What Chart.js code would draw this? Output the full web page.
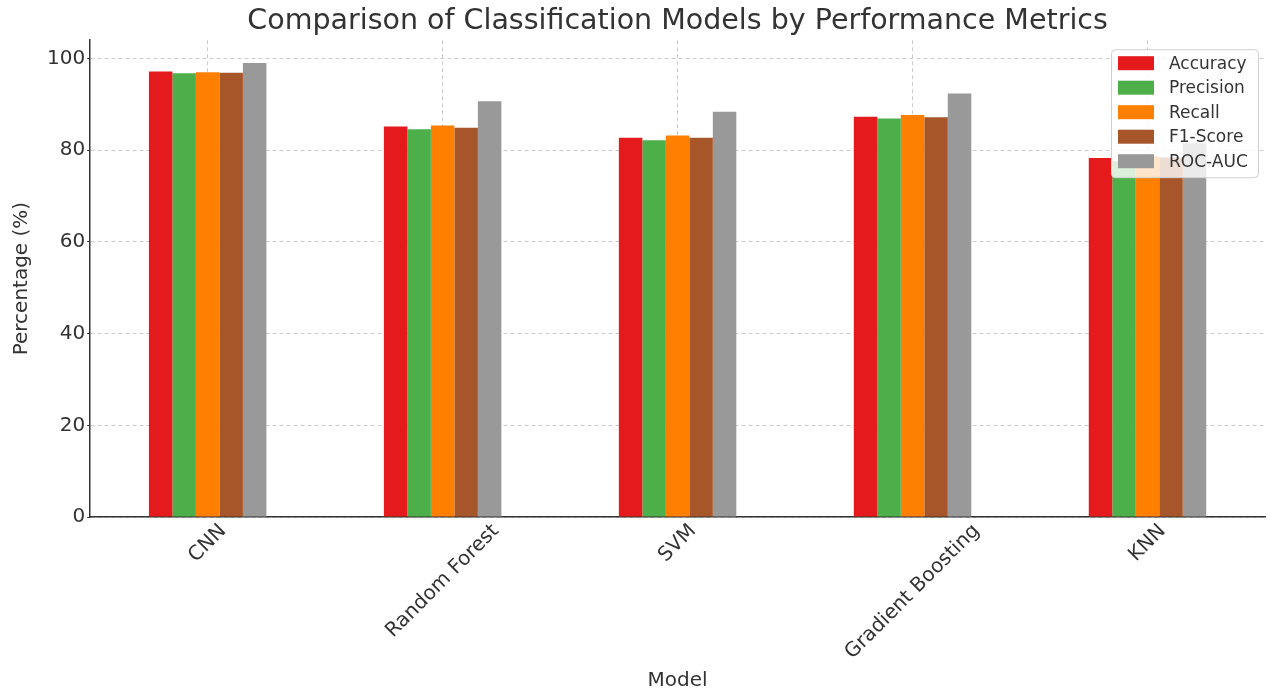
<!DOCTYPE html>
<html>
<head>
<meta charset="utf-8">
<script src="https://cdn.jsdelivr.net/npm/chart.js@4.4.0/dist/chart.umd.min.js"></script>
<style>
  html, body { margin: 0; padding: 0; background: #fff; }
  #wrap { width: 1270px; height: 691px; position: relative; }
</style>
</head>
<body>
<div id="wrap"><canvas id="metricsChart"></canvas></div>
<script>
// chart data
const models = ['CNN', 'Random Forest', 'SVM', 'Gradient Boosting', 'KNN'];
const accuracy  = [97.2, 85.2, 82.7, 87.3, 78.3];
const precision = [96.8, 84.6, 82.2, 86.9, 77.6];
const recall    = [97.0, 85.4, 83.2, 87.7, 78.7];
const f1Score   = [96.9, 84.9, 82.7, 87.2, 78.4];
const rocAuc    = [99.0, 90.7, 88.4, 92.4, 81.5];
const yTicks = [0, 20, 40, 60, 80, 100];

const seriesConfigs = [
    { label: 'Accuracy',  data: accuracy,  color: '#e41a1c' },
    { label: 'Precision', data: precision, color: '#4daf4a' },
    { label: 'Recall',    data: recall,    color: '#ff7f00' },
    { label: 'F1-Score',  data: f1Score,   color: '#a65628' },
    { label: 'ROC-AUC',   data: rocAuc,    color: '#999999' }
];

const FONT = "'DejaVu Sans', sans-serif";
const TEXT = '#333333';

// legend drawn inside the plot area, top right (like matplotlib)
const innerLegend = {
    id: 'innerLegend',
    afterDraw(chart) {
        const ctx = chart.ctx;
        const area = chart.chartArea;
        const boxW = 147, boxH = 128;
        const x = area.right - boxW - 7, y = area.top + 9;
        ctx.save();
        ctx.fillStyle = 'rgba(255,255,255,0.8)';
        ctx.strokeStyle = '#d0d0d0';
        ctx.lineWidth = 1;
        ctx.beginPath();
        ctx.roundRect(x + 0.5, y + 0.5, boxW, boxH, 4);
        ctx.fill();
        ctx.stroke();
        ctx.font = '17px ' + FONT;
        ctx.textBaseline = 'middle';
        chart.data.datasets.forEach((ds, i) => {
            const rowY = y + 14 + i * 24.5;
            ctx.fillStyle = ds.backgroundColor;
            ctx.fillRect(x + 7, rowY - 7, 36, 14);
            ctx.fillStyle = TEXT;
            ctx.fillText(ds.label, x + 58, rowY + 1);
        });
        ctx.restore();
    }
};

// x labels centred under the tick, rotated 45deg (matplotlib ha='center')
const centeredXLabels = {
    id: 'centeredXLabels',
    afterDraw(chart) {
        const ctx = chart.ctx;
        const xScale = chart.scales.x;
        ctx.save();
        ctx.font = '20px ' + FONT;
        ctx.fillStyle = TEXT;
        ctx.textAlign = 'center';
        ctx.textBaseline = 'middle';
        chart.data.labels.forEach((label, i) => {
            const px = xScale.getPixelForTick(i);
            const w = ctx.measureText(label).width;
            const half = (w + 14) * Math.SQRT1_2 / 2;
            ctx.save();
            ctx.translate(px, xScale.top + 6 + half);
            ctx.rotate(-Math.PI / 4);
            ctx.fillText(label, 0, 0);
            ctx.restore();
        });
        ctx.restore();
    }
};

const canvas = document.getElementById('metricsChart');
const chart = new Chart(canvas.getContext('2d'), {
    type: 'bar',
    data: {
        labels: models,
        datasets: seriesConfigs.map(c => ({
            label: c.label,
            data: c.data,
            backgroundColor: c.color,
            borderWidth: 0,
            categoryPercentage: 0.5,
            barPercentage: 1.0
        }))
    },
    options: {
        responsive: true,
        maintainAspectRatio: false,
        animation: false,
        layout: { padding: { top: 4, right: 5, left: 10, bottom: -2 } },
        plugins: {
            legend: { display: false },
            tooltip: { enabled: false },
            title: {
                display: true,
                fullSize: false,
                text: 'Comparison of Classification Models by Performance Metrics',
                color: TEXT,
                font: { family: FONT, size: 28.5, weight: 'normal' },
                padding: { top: 0, bottom: 2 }
            }
        },
        scales: {
            x: {
                afterFit(scale) {
                    scale.height = 176;
                },
                grid: {
                    color: '#cccccc',
                    offset: false,
                    drawTicks: false
                },
                border: { color: '#333', width: 1.5, dash: [4, 3] },
                ticks: {
                    color: 'rgba(0,0,0,0)',
                    font: { family: FONT, size: 20 },
                    minRotation: 45,
                    maxRotation: 45,
                    padding: 6
                },
                title: {
                    display: true,
                    text: 'Model',
                    color: TEXT,
                    font: { family: FONT, size: 20 },
                    padding: { top: 4, bottom: 0 }
                }
            },
            y: {
                min: 0,
                max: 104,
                afterBuildTicks(scale) {
                    scale.ticks = yTicks.map(v => ({ value: v }));
                },
                grid: {
                    color: '#cccccc',
                    tickColor: '#333',
                    tickLength: 3
                },
                border: { color: '#333', width: 1.5, dash: [4, 3] },
                ticks: {
                    color: TEXT,
                    font: { family: FONT, size: 20 },
                    padding: 2
                },
                title: {
                    display: true,
                    text: 'Percentage (%)',
                    color: TEXT,
                    font: { family: FONT, size: 20 },
                    padding: { top: 0, bottom: 11 }
                }
            }
        }
    },
    plugins: [innerLegend, centeredXLabels]
});
</script>
</body>
</html>
